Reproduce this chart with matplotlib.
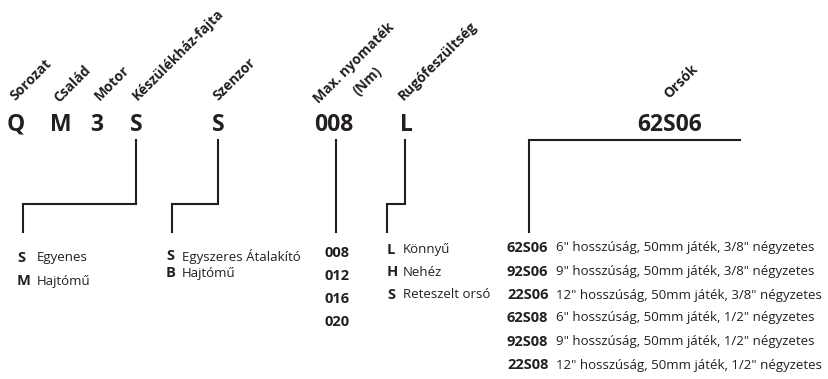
import matplotlib.pyplot as plt

plt.rcParams['font.family'] = ['Open Sans', 'DejaVu Sans']
INK = '#231f20'

# --- content ---
headers = ["Sorozat", "Család", "Motor", "Készülékház-fajta", "Szenzor",
           "Max. nyomaték", "(Nm)", "Rugófeszültség", "Orsók"]
codes = ["Q", "M", "3", "S", "S", "008", "L", "62S06"]

housing_keys = ["S", "M"]
housing_names = ["Egyenes", "Hajtómű"]
sensor_keys = ["S", "B"]
sensor_names = ["Egyszeres Átalakító", "Hajtómű"]
torque_values = ["008", "012", "016", "020"]
spring_keys = ["L", "H", "S"]
spring_names = ["Könnyű", "Nehéz", "Reteszelt orsó"]
shaft_keys = ["62S06", "92S06", "22S06", "62S08", "92S08", "22S08"]
shaft_desc = ['6" hosszúság, 50mm játék, 3/8" négyzetes',
              '9" hosszúság, 50mm játék, 3/8" négyzetes',
              '12" hosszúság, 50mm játék, 3/8" négyzetes',
              '6" hosszúság, 50mm játék, 1/2" négyzetes',
              '9" hosszúság, 50mm játék, 1/2" négyzetes',
              '12" hosszúság, 50mm játék, 1/2" négyzetes']

# --- layout (pixel coords, y down) ---
header_xy = [(15, 101), (59, 103), (100, 101), (138, 101), (218, 101),
             (319, 104), (358, 96), (404, 101), (669, 99)]
code_x = [16, 61, 97, 136, 218, 334, 406, 670]
code_y = 125

connectors = [
    [(136, 140), (136, 204), (23, 204), (23, 232)],
    [(218, 140), (218, 204), (172, 204), (172, 232)],
    [(336, 140), (336, 232)],
    [(405, 140), (405, 204), (387, 204), (387, 232)],
    [(740, 140), (529, 140), (529, 232)],
]

fig = plt.figure(figsize=(8.29, 3.79), dpi=100)
ax = fig.add_axes([0, 0, 1, 1])
ax.set_xlim(0, 829)
ax.set_ylim(379, 0)
ax.axis('off')

for txt, (x, y) in zip(headers, header_xy):
    ax.text(x, y, txt, rotation=45, rotation_mode='anchor', ha='left',
            va='baseline', fontsize=10, fontweight='bold', color=INK)

for txt, x in zip(codes, code_x):
    ax.text(x, code_y, txt, ha='center', va='center', fontsize=16.5,
            fontweight='bold', color=INK)

for path in connectors:
    xs, ys = zip(*path)
    ax.plot(xs, ys, color=INK, lw=1.5, solid_joinstyle='miter')


def legend_rows(keys, names, kx, nx, ys):
    for k, n, y in zip(keys, names, ys):
        ax.text(kx, y, k, ha='left', va='center', fontsize=10.5,
                fontweight='bold', color=INK)
        ax.text(nx, y, n, ha='left', va='center', fontsize=9.5, color=INK)


legend_rows(housing_keys, housing_names, 17, 37, [258, 281])
legend_rows(sensor_keys, sensor_names, 166, 182, [256, 273])
for v, y in zip(torque_values, [253, 276, 299, 322]):
    ax.text(325, y, v, ha='left', va='center', fontsize=10.5,
            fontweight='bold', color=INK)
legend_rows(spring_keys, spring_names, 387, 403, [250, 272, 295])
legend_rows(shaft_keys, shaft_desc, 507, 556, [248, 272, 295, 318, 342, 365])

fig.savefig('out.png', dpi=100)
